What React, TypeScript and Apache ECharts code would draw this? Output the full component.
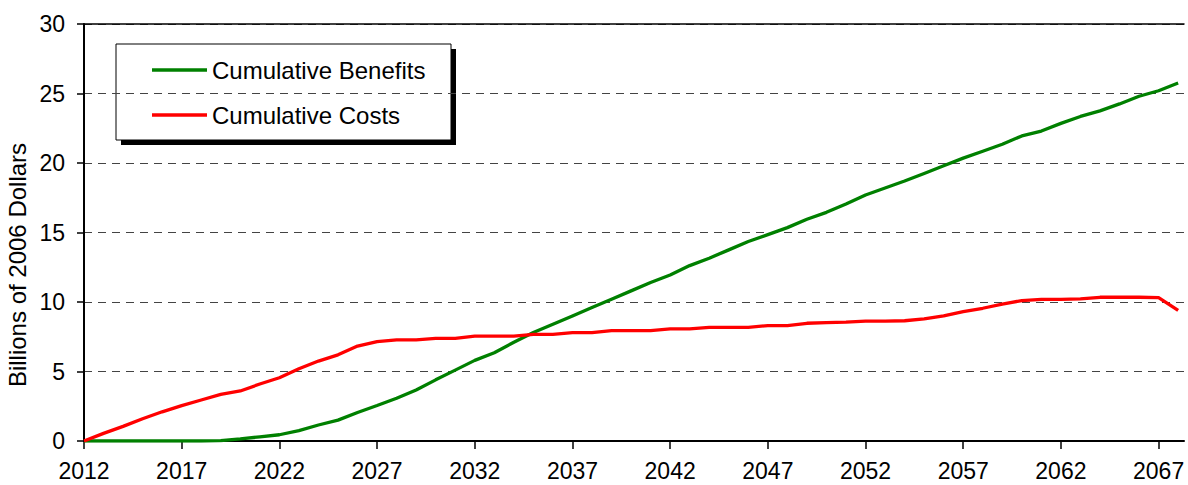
import React, { useEffect, useRef } from "react";
import * as echarts from "echarts";

const years: number[] = [
  2012, 2013, 2014, 2015, 2016, 2017, 2018, 2019, 2020, 2021,
  2022, 2023, 2024, 2025, 2026, 2027, 2028, 2029, 2030, 2031,
  2032, 2033, 2034, 2035, 2036, 2037, 2038, 2039, 2040, 2041,
  2042, 2043, 2044, 2045, 2046, 2047, 2048, 2049, 2050, 2051,
  2052, 2053, 2054, 2055, 2056, 2057, 2058, 2059, 2060, 2061,
  2062, 2063, 2064, 2065, 2066, 2067, 2068,
];

const benefits: number[] = [
  0, 0, 0, 0, 0, 0, 0, 0.03, 0.15, 0.3,
  0.45, 0.75, 1.15, 1.5, 2.05, 2.55, 3.07, 3.67, 4.4, 5.1,
  5.8, 6.35, 7.1, 7.8, 8.4, 9.0, 9.6, 10.2, 10.8, 11.4,
  11.94, 12.62, 13.15, 13.75, 14.35, 14.85, 15.35, 15.95, 16.45, 17.05,
  17.7, 18.2, 18.7, 19.25, 19.8, 20.35, 20.85, 21.35, 21.95, 22.3,
  22.85, 23.35, 23.75, 24.25, 24.8, 25.2, 25.75,
];

const costs: number[] = [
  0, 0.55, 1.05, 1.6, 2.1, 2.55, 2.95, 3.35, 3.6, 4.1,
  4.55, 5.2, 5.75, 6.2, 6.83, 7.15, 7.27, 7.27, 7.39, 7.39,
  7.55, 7.55, 7.55, 7.67, 7.67, 7.79, 7.79, 7.94, 7.94, 7.94,
  8.06, 8.06, 8.18, 8.18, 8.18, 8.3, 8.3, 8.47, 8.51, 8.55,
  8.63, 8.63, 8.65, 8.78, 9.0, 9.3, 9.55, 9.85, 10.1, 10.19,
  10.19, 10.22, 10.34, 10.34, 10.34, 10.32, 9.4,
];

const xTickYears: number[] = [2012, 2017, 2022, 2027, 2032, 2037, 2042, 2047, 2052, 2057, 2062, 2067];
const seriesNames: string[] = ["Cumulative Benefits", "Cumulative Costs"];
const seriesColors: string[] = ["#008000", "#FF0000"];
const yTitle = "Billions of 2006 Dollars";

const FONT = "'Liberation Sans', Arial, sans-serif";

export default function App() {
  const ref = useRef<HTMLDivElement>(null);
  useEffect(() => {
    if (!ref.current) return;
    const chart = echarts.init(ref.current, undefined, { renderer: "svg" });
    const pairs = (vals: number[]) => years.map((y, i) => [y, vals[i]]);
    const option: any = {
      animation: false,
      backgroundColor: "#fff",
      textStyle: { fontFamily: FONT },
      grid: { left: 84, right: 4, top: 24, bottom: 44, containLabel: false },
      xAxis: [
        {
          type: "value",
          min: 2012,
          max: 2068.3,
          position: "bottom",
          axisLine: { show: true, onZero: false, lineStyle: { color: "#000", width: 2 } },
          axisTick: { show: true, length: 8, customValues: xTickYears, lineStyle: { color: "#000", width: 1.5 } },
          axisLabel: {
            show: true,
            customValues: xTickYears,
            margin: 18,
            fontSize: 23,
            color: "#000",
            fontFamily: FONT,
            formatter: (v: number) => String(v),
          },
          splitLine: { show: false },
        },
        {
          type: "value",
          min: 2012,
          max: 2068.3,
          position: "top",
          axisLine: { show: true, onZero: false, lineStyle: { color: "#000", width: 1.5 } },
          axisTick: { show: false },
          axisLabel: { show: false },
          splitLine: { show: false },
        },
      ],
      yAxis: {
        type: "value",
        min: 0,
        max: 30,
        interval: 5,
        axisLine: { show: true, lineStyle: { color: "#000", width: 2 } },
        axisTick: { show: true, length: 7, lineStyle: { color: "#000", width: 1.5 } },
        axisLabel: { margin: 19, fontSize: 23, color: "#000", fontFamily: FONT },
        splitLine: { show: true, lineStyle: { color: "#444", width: 1, type: [8, 6] } },
      },
      series: [
        {
          name: seriesNames[0],
          type: "line",
          xAxisIndex: 0,
          data: pairs(benefits),
          showSymbol: false,
          symbol: "none",
          lineStyle: { color: seriesColors[0], width: 3.3 },
          itemStyle: { color: seriesColors[0] },
          z: 3,
        },
        {
          name: seriesNames[1],
          type: "line",
          xAxisIndex: 0,
          data: pairs(costs),
          showSymbol: false,
          symbol: "none",
          lineStyle: { color: seriesColors[1], width: 3.3 },
          itemStyle: { color: seriesColors[1] },
          z: 4,
        },
      ],
      graphic: [
        {
          type: "text",
          x: 17,
          y: 265,
          rotation: Math.PI / 2,
          style: {
            text: yTitle,
            fontSize: 24,
            fontFamily: FONT,
            fill: "#000",
            align: "center",
            verticalAlign: "middle",
          },
        },
        {
          type: "group",
          z: 100,
          children: [
            { type: "rect", shape: { x: 121, y: 49, width: 335, height: 96 }, style: { fill: "#000" } },
            { type: "rect", shape: { x: 116, y: 44, width: 335, height: 96 }, style: { fill: "#fff", stroke: "#000", lineWidth: 1 } },
            { type: "line", shape: { x1: 152, y1: 70, x2: 207, y2: 70 }, style: { stroke: seriesColors[0], lineWidth: 3.3 } },
            { type: "line", shape: { x1: 152, y1: 115, x2: 207, y2: 115 }, style: { stroke: seriesColors[1], lineWidth: 3.3 } },
            {
              type: "text",
              x: 212,
              y: 70,
              style: { text: seriesNames[0], fontSize: 24, fontFamily: FONT, fill: "#000", align: "left", verticalAlign: "middle" },
            },
            {
              type: "text",
              x: 212,
              y: 115,
              style: { text: seriesNames[1], fontSize: 24, fontFamily: FONT, fill: "#000", align: "left", verticalAlign: "middle" },
            },
          ],
        },
      ],
    };
    chart.setOption(option);
    return () => chart.dispose();
  }, []);
  return (
    <div
      ref={ref}
      style={{ position: "absolute", left: 0, top: 0, width: 1188, height: 485 }}
    />
  );
}
